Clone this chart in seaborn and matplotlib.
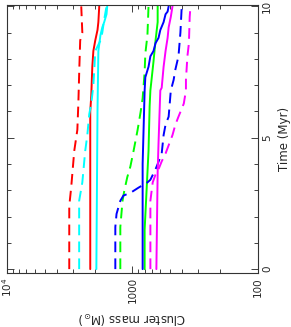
import numpy as np
import pandas as pd
import matplotlib
matplotlib.use('Agg')
import matplotlib.pyplot as plt
import seaborn as sns
from matplotlib.ticker import LogLocator, MultipleLocator, NullFormatter

# Time (Myr) and cluster mass (Msun)
red_dash_t = [0, 2.4, 3.1, 4.5, 5.3, 6.3, 7.7, 8.7, 9.0, 10]
red_dash_m = [3190, 3190, 3080, 2910, 2750, 2700, 2650, 2610, 2510, 2560]

red_solid_t = [0, 6.0, 6.6, 7.7, 8.3, 8.7, 9.1, 9.4, 10]
red_solid_m = [2170, 2170, 2130, 2090, 2050, 1980, 1900, 1870, 1840]

cyan_dash_t = [0, 2.6, 3.3, 4.5, 5.1, 5.9, 6.3, 7.0, 7.7, 8.3, 8.7, 9.0, 9.5, 10]
cyan_dash_m = [2660, 2660, 2510, 2380, 2290, 2210, 2130, 2050, 2010, 1980, 1800, 1740, 1680, 1610]

cyan_solid_t = [0, 6.0, 8.3, 8.9, 9.2, 9.4, 9.7, 10]
cyan_solid_m = [1940, 1900, 1870, 1800, 1740, 1680, 1610, 1590]

green_dash_t = [0, 1.6, 2.1, 2.6, 3.0, 3.5, 3.9, 4.5, 5.3, 6.0, 6.5, 7.5, 8.2, 8.9, 10]
green_dash_m = [1250, 1250, 1225, 1200, 1160, 1100, 1040, 980, 910, 860, 830, 800, 790, 760, 745]

green_solid_t = [0, 1.5, 4.5, 6.2, 6.8, 7.9, 8.7, 9.4, 10]
green_solid_m = [800, 800, 745, 730, 720, 680, 655, 630, 630]

blue_dash_t = [0, 1.6, 2.1, 2.6, 2.8, 2.9, 3.1, 3.3, 3.4, 3.8, 4.0, 4.4, 5.1, 5.5, 5.8, 6.8, 7.2, 7.6, 8.1, 9.0, 10]
blue_dash_m = [1370, 1370, 1340, 1250, 1180, 1040, 895, 760, 720, 655, 630, 585, 565, 545, 515, 495, 470, 455, 430, 415, 405]

blue_solid_t = [0, 4.0, 6.8, 7.3, 7.7, 8.1, 8.3, 8.6, 8.8, 9.1, 9.4, 9.7, 9.8, 10]
blue_solid_m = [830, 830, 800, 790, 745, 720, 680, 655, 620, 600, 565, 545, 525, 515]

magenta_dash_t = [0, 2.6, 3.3, 3.6, 3.8, 4.1, 4.4, 5.1, 5.5, 5.8, 6.3, 6.8, 7.2, 8.1, 8.6, 9.6, 10]
magenta_dash_m = [720, 720, 690, 655, 620, 585, 545, 480, 455, 430, 390, 375, 375, 365, 355, 350, 345]

magenta_solid_t = [0, 3.7, 4.8, 5.8, 6.8, 6.9, 7.7, 8.3, 8.8, 9.2, 9.6, 10]
magenta_solid_m = [645, 630, 620, 610, 600, 585, 565, 545, 525, 515, 495, 480]

series = [
    (red_dash_t, red_dash_m, 'red', True),
    (red_solid_t, red_solid_m, 'red', False),
    (cyan_dash_t, cyan_dash_m, 'cyan', True),
    (cyan_solid_t, cyan_solid_m, 'cyan', False),
    (green_dash_t, green_dash_m, 'lime', True),
    (green_solid_t, green_solid_m, 'lime', False),
    (blue_dash_t, blue_dash_m, 'blue', True),
    (blue_solid_t, blue_solid_m, 'blue', False),
    (magenta_dash_t, magenta_dash_m, 'magenta', True),
    (magenta_solid_t, magenta_solid_m, 'magenta', False),
]

sns.set_style('ticks')
plt.rcParams['font.family'] = ['DejaVu Sans']
plt.rcParams['mathtext.default'] = 'regular'

fig = plt.figure(figsize=(2.91, 3.27), dpi=100)
ax = fig.add_axes([0.024, 0.165, 0.8625, 0.8196])

for t, m, col, dashed in series:
    df = pd.DataFrame({'time': t, 'mass': m})
    sns.lineplot(data=df, x='mass', y='time', orient='y', sort=False, estimator=None,
                 color=col, linewidth=1.4, ax=ax)
    if dashed:
        ax.lines[-1].set_dashes((5.5, 3.2))

ax.set_xscale('log')
ax.set_xlim(1e4, 100)
ax.set_ylim(-0.15, 10.05)

ax.set_xticks([1e4, 1e3, 1e2])
ax.set_xticklabels(['$10^4$', '1000', '100'], rotation=90, fontsize=7.5)
ax.xaxis.set_minor_locator(LogLocator(base=10, subs=np.arange(2, 10)))
ax.xaxis.set_minor_formatter(NullFormatter())

ax.yaxis.tick_right()
ax.yaxis.set_label_position('right')
ax.set_yticks([0, 5, 10])
ax.set_yticklabels(['0', '5', '10'], rotation=90, va='center', fontsize=7.5)
ax.yaxis.set_minor_locator(MultipleLocator(1))

ax.tick_params(which='both', direction='in', top=True, bottom=True, left=True, right=True,
               labelleft=False, labelright=True, width=0.7, color='0.25', pad=3)
ax.tick_params(which='major', length=5)
ax.tick_params(which='minor', length=3)
for s in ax.spines.values():
    s.set_linewidth(0.8)
    s.set_color('0.2')

ax.set_xlabel(r'Cluster mass (M$_{\odot}$)', rotation=180, fontsize=8.5)
ax.set_ylabel('Time (Myr)', rotation=90, fontsize=8.5)

plt.savefig('out.png', dpi=100, facecolor='white')
plt.close()
